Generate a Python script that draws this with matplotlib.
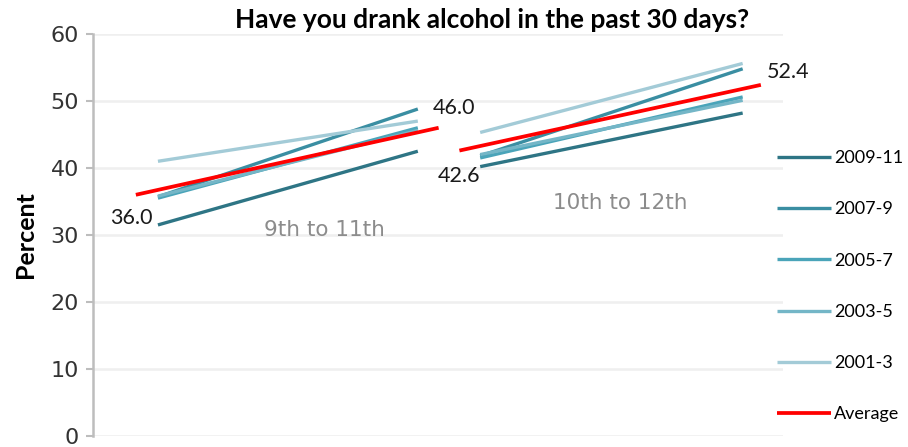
import numpy as np
import matplotlib
matplotlib.use('Agg')
import matplotlib.pyplot as plt

# survey periods and their values (start grade, end grade)
periods = ['2009-11', '2007-9', '2005-7', '2003-5', '2001-3']
colors = ['#2e7585', '#3a8ea2', '#4aa4b9', '#74b6c7', '#a3cbd7']

# 9th grade -> 11th grade
g9_to_11 = [[31.5, 42.5], [35.7, 48.8], [35.5, 46.0], [35.8, 45.6], [41.0, 47.0]]
# 10th grade -> 12th grade
g10_to_12 = [[40.2, 48.2], [41.8, 54.8], [41.5, 50.6], [42.0, 50.1], [45.3, 55.6]]
avg_9_11 = [36.0, 46.0]
avg_10_12 = [42.6, 52.4]

# horizontal positions of the two cohorts
x1 = [0.0, 1.0]
x2 = [1.24, 2.25]
x1_avg = [-0.085, 1.08]
x2_avg = [1.16, 2.32]

fig = plt.figure(figsize=(9.08, 4.47), dpi=100)
ax = fig.add_axes([0.1024, 0.0246, 0.862 - 0.1024, 0.924 - 0.0246])

for i in range(len(periods)):
    ax.plot(x1, g9_to_11[i], color=colors[i], lw=2.4, label=periods[i], solid_capstyle='butt')
    ax.plot(x2, g10_to_12[i], color=colors[i], lw=2.4, solid_capstyle='butt')
ax.plot(x1_avg, avg_9_11, color='#ff0000', lw=2.7, label='Average', solid_capstyle='butt')
ax.plot(x2_avg, avg_10_12, color='#ff0000', lw=2.7, solid_capstyle='butt')

lab_font = dict(family='Lato', fontsize=15.5, color='#1a1a1a')
ax.annotate('%.1f' % avg_9_11[0], (x1_avg[0], avg_9_11[0]), xytext=(12, -17),
            textcoords='offset points', ha='right', va='center', **lab_font)
ax.annotate('%.1f' % avg_9_11[1], (x1_avg[1], avg_9_11[1]), xytext=(-4, 14),
            textcoords='offset points', ha='left', va='center', **lab_font)
ax.annotate('%.1f' % avg_10_12[0], (x2_avg[0], avg_10_12[0]), xytext=(0, -18),
            textcoords='offset points', ha='center', va='center', **lab_font)
ax.annotate('%.1f' % avg_10_12[1], (x2_avg[1], avg_10_12[1]), xytext=(4, 9),
            textcoords='offset points', ha='left', va='center', **lab_font)

ax.text(0.642, 30.7, '9th to 11th', ha='center', va='center', fontsize=15.5, color='#8c8c8c')
ax.text(1.777, 34.8, '10th to 12th', ha='center', va='center', fontsize=15.5, color='#8c8c8c')

ax.set_xlim(-0.25, 2.404)
ax.set_ylim(0, 60)
ax.set_yticks(np.arange(0, 61, 10))
ax.set_xticks([])
ax.yaxis.grid(True, color='#efefef', lw=1.8)
ax.set_axisbelow(True)
for s in ['top', 'right', 'bottom']:
    ax.spines[s].set_visible(False)
ax.spines['left'].set_color('#bdbdbd')
ax.spines['left'].set_linewidth(1.8)
ax.tick_params(axis='y', length=5, width=1.5, color='#bdbdbd', labelsize=16,
               labelcolor='#333333', pad=5)

ax.set_ylabel('Percent', family='Lato', fontweight='bold', fontsize=18, labelpad=10)
fig.text(0.542, 0.955, 'Have you drank alcohol in the past 30 days?', ha='center', va='center',
         family='Lato', fontweight='bold', fontsize=19)

ax.legend(loc='upper left', bbox_to_anchor=(0.848, 0.68), bbox_transform=fig.transFigure,
          frameon=False, prop={'family': 'Lato', 'size': 13}, handlelength=3.0,
          handletextpad=0.15, labelspacing=1.95, borderaxespad=0)

plt.savefig('out.png', dpi=100)
